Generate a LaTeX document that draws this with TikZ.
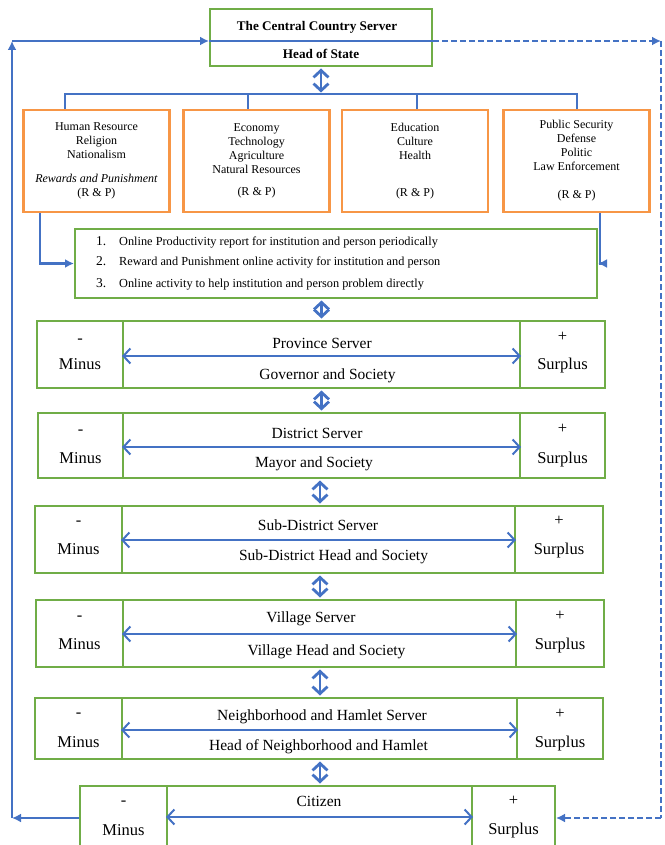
\documentclass[tikz,border=0pt]{standalone}
\usepackage{fontspec}
\setmainfont{Liberation Serif}
\usetikzlibrary{arrows.meta,positioning}
\definecolor{linkblue}{HTML}{4472C4}
\definecolor{levelgreen}{HTML}{70AD47}
\definecolor{sectororange}{HTML}{F79646}

\begin{document}
\begin{tikzpicture}[
 x=1pt,y=-1pt,
 gbox/.style={draw=levelgreen,line width=2pt,inner sep=0pt},
 obox/.style={draw=sectororange,line width=2.4pt,align=center,
   minimum width=146pt,minimum height=102pt,inner sep=2pt,
   font=\fontsize{12}{14}\selectfont},
 ttl/.style={font=\fontsize{13.2}{15}\selectfont\bfseries,anchor=base},
 lvl/.style={font=\fontsize{15.5}{18}\selectfont,anchor=base},
 pm/.style={font=\fontsize{16.5}{19}\selectfont,anchor=base},
 itm/.style={font=\fontsize{12.3}{14}\selectfont,anchor=base west,inner sep=0pt},
 fline/.style={draw=linkblue,line width=2.2pt},
 dline/.style={fline,dash pattern=on 6pt off 3pt},
 farr/.style={fline,-{Latex[length=9pt,width=9pt]}},
 darr/.style={dline,-{Latex[length=9pt,width=9pt]}},
 harr/.style={draw=linkblue,line width=2pt,
   {Straight Barb[length=7pt,width=15pt]}-{Straight Barb[length=7pt,width=15pt]}},
 varr/.style={draw=linkblue,line width=2.8pt,shorten <=1.5pt,shorten >=1.5pt,
   {Straight Barb[length=7pt,width=15pt]}-{Straight Barb[length=7pt,width=15pt]}}
]
\useasboundingbox (0,0) rectangle (664,845);

% central server
\node[gbox,minimum width=222pt,minimum height=57pt] (central) at (321,37.5) {};
\node[ttl] (centralname) at (317,31) {The Central Country Server};
\node[ttl] (centralhead) at (321,59) {Head of State};

% sectors
\node[obox] (hr) at (96.5,161)
 {Human Resource\\Religion\\Nationalism\\[10pt]\textit{Rewards and Punishment}\\(R \& P)};
\node[obox] (eco) at (256.5,161)
 {Economy\\Technology\\Agriculture\\Natural Resources\\[8pt](R \& P)};
\node[obox] (edu) at (415,161)
 {Education\\Culture\\Health\\[23pt](R \& P)};
\node[obox] (sec) at (576.5,161)
 {Public Security\\Defense\\Politic\\Law Enforcement\\[14pt](R \& P)};

\coordinate (bus) at (321,94);
\draw[varr] (central.south) -- (bus);
\draw[fline] ([xshift=-31.5pt]hr.north) |- (bus) -| ([xshift=0.5pt]sec.north);
\draw[fline] ([xshift=-8.5pt]eco.north) -- ([xshift=-8.5pt]eco.north |- bus);
\draw[fline] ([xshift=2pt]edu.north) -- ([xshift=2pt]edu.north |- bus);

% online activities
\node[gbox,minimum width=522pt,minimum height=69pt] (list) at (336,263.5) {};
\node[itm] (item1) at (96,245) {\makebox[23pt][l]{\fontsize{13.5}{14}\selectfont 1.}Online Productivity report for institution and person periodically};
\node[itm] (item2) at (96,265) {\makebox[23pt][l]{\fontsize{13.5}{14}\selectfont 2.}Reward and Punishment online activity for institution and person};
\node[itm] (item3) at (96,287) {\makebox[23pt][l]{\fontsize{13.5}{14}\selectfont 3.}Online activity to help institution and person problem directly};
\draw[farr] ([xshift=-56.5pt]hr.south) |- (list.west);
\draw[farr] ([xshift=23.5pt]sec.south) |- (list.east);

% province
\node[gbox,minimum width=397pt,minimum height=67pt] (provmid) at (321.5,354.5) {};
\node[gbox,minimum width=86pt,minimum height=67pt] (provminus) at (80,354.5) {};
\node[gbox,minimum width=85pt,minimum height=67pt] (provplus) at (562.5,354.5) {};
\node[lvl] (provname) at (322,348) {Province Server};
\node[lvl] (provhead) at (327.5,379) {Governor and Society};
\node[pm] (provminussign) at (80,343) {-};
\node[pm] (provminustext) at (80,369) {Minus};
\node[pm] (provplussign) at (562.5,341) {+};
\node[pm] (provplustext) at (562.5,369) {Surplus};
\draw[harr] ([yshift=-1.5pt]provmid.west) -- ([yshift=-1.5pt]provmid.east);
\draw[varr] (list.south -| provmid.north) -- (provmid.north);

% district
\node[gbox,minimum width=397pt,minimum height=65pt] (distmid) at (321.5,445.5) {};
\node[gbox,minimum width=85pt,minimum height=65pt] (distminus) at (80.5,445.5) {};
\node[gbox,minimum width=85pt,minimum height=65pt] (distplus) at (562.5,445.5) {};
\node[lvl] (distname) at (317,438) {District Server};
\node[lvl] (disthead) at (314,467) {Mayor and Society};
\node[pm] (distminussign) at (80.5,434) {-};
\node[pm] (distminustext) at (80.5,463) {Minus};
\node[pm] (distplussign) at (562.5,433) {+};
\node[pm] (distplustext) at (562.5,463) {Surplus};
\draw[harr] ([yshift=-1.5pt]distmid.west) -- ([yshift=-1.5pt]distmid.east);
\draw[varr] (provmid.south) -- (distmid.north);

% sub-district
\node[gbox,minimum width=393pt,minimum height=67pt] (submid) at (318.5,539.5) {};
\node[gbox,minimum width=87pt,minimum height=67pt] (subminus) at (78.5,539.5) {};
\node[gbox,minimum width=88pt,minimum height=67pt] (subplus) at (559,539.5) {};
\node[lvl] (subname) at (318,530) {Sub-District Server};
\node[lvl] (subhead) at (333.5,560) {Sub-District Head and Society};
\node[pm] (subminussign) at (78.5,525) {-};
\node[pm] (subminustext) at (78.5,554) {Minus};
\node[pm] (subplussign) at (559,525) {+};
\node[pm] (subplustext) at (559,554) {Surplus};
\draw[harr] ([yshift=-0.5pt]submid.west) -- ([yshift=-0.5pt]submid.east);
\draw[varr] (distmid.south -| 320,0) -- (submid.north -| 320,0);

% village
\node[gbox,minimum width=393pt,minimum height=67pt] (villmid) at (319.5,633.5) {};
\node[gbox,minimum width=87pt,minimum height=67pt] (villminus) at (79.5,633.5) {};
\node[gbox,minimum width=88pt,minimum height=67pt] (villplus) at (560,633.5) {};
\node[lvl] (villname) at (311,622) {Village Server};
\node[lvl] (villhead) at (326.5,655) {Village Head and Society};
\node[pm] (villminussign) at (79.5,620) {-};
\node[pm] (villminustext) at (79.5,649) {Minus};
\node[pm] (villplussign) at (560,620) {+};
\node[pm] (villplustext) at (560,649) {Surplus};
\draw[harr] ([yshift=-0.5pt]villmid.west) -- ([yshift=-0.5pt]villmid.east);
\draw[varr] (submid.south -| 320,0) -- (villmid.north -| 320,0);

% neighborhood and hamlet
\node[gbox,minimum width=395pt,minimum height=61pt] (neighmid) at (319.5,728.5) {};
\node[gbox,minimum width=87pt,minimum height=61pt] (neighminus) at (78.5,728.5) {};
\node[gbox,minimum width=86pt,minimum height=61pt] (neighplus) at (560,728.5) {};
\node[lvl] (neighname) at (322,720) {Neighborhood and Hamlet Server};
\node[lvl] (neighhead) at (318.5,750) {Head of Neighborhood and Hamlet};
\node[pm] (neighminussign) at (78.5,717) {-};
\node[pm] (neighminustext) at (78.5,747) {Minus};
\node[pm] (neighplussign) at (560,718) {+};
\node[pm] (neighplustext) at (560,747) {Surplus};
\draw[harr] ([yshift=-1.5pt]neighmid.west) -- ([yshift=-1.5pt]neighmid.east);
\draw[varr] (villmid.south -| 320,0) -- (neighmid.north -| 320,0);

% citizen
\node[gbox,minimum width=305pt,minimum height=64pt] (citmid) at (319.5,818) {};
\node[gbox,minimum width=87pt,minimum height=64pt] (citminus) at (123.5,818) {};
\node[gbox,minimum width=83pt,minimum height=64pt] (citplus) at (513.5,818) {};
\node[lvl] (citname) at (319,806) {Citizen};
\node[pm] (citminussign) at (123.5,805) {-};
\node[pm] (citminustext) at (123.5,835) {Minus};
\node[pm] (citplussign) at (513.5,805) {+};
\node[pm] (citplustext) at (513.5,834) {Surplus};
\draw[harr] ([yshift=1pt]citmid.west) -- ([yshift=1pt]citmid.east);
\draw[varr] (neighmid.south -| 320,0) -- (citmid.north -| 320,0);

% feedback loop
\coordinate (lbot) at (12,818);
\coordinate (ltop) at (12,41);
\coordinate (rtop) at (661,41);
\coordinate (rbot) at (661,818);
\draw[farr] (citminus.west) -- (lbot);
\draw[farr] (lbot) -- (ltop);
\draw[farr] (ltop) -- (central.west |- ltop);
\draw[fline] (central.west |- ltop) -- (central.east |- ltop);
\draw[darr] (central.east |- ltop) -- (rtop);
\draw[dline] (rtop) -- (rbot);
\draw[darr] (rbot) -- (citplus.east);
\end{tikzpicture}
\end{document}
